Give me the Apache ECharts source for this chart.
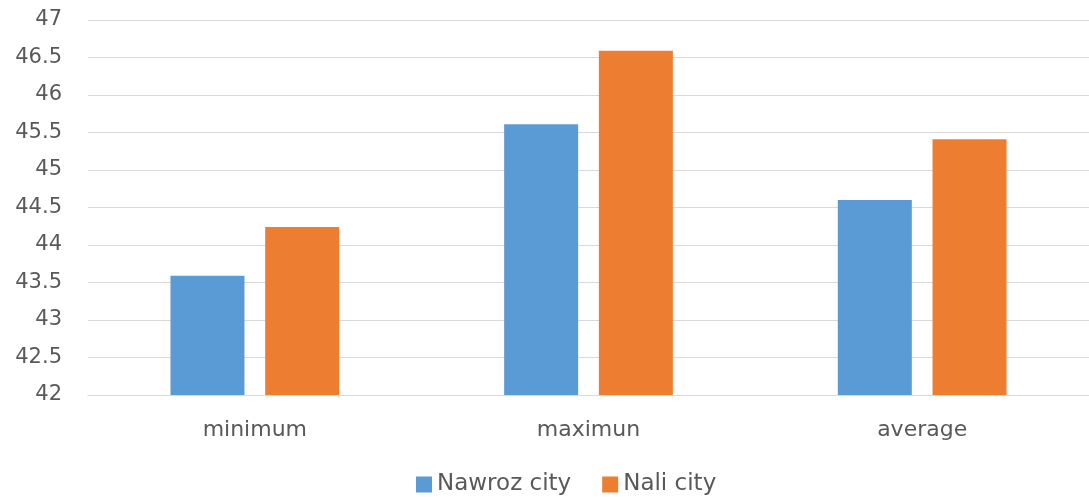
<!DOCTYPE html>
<html><head><meta charset="utf-8">
<script src="https://cdn.jsdelivr.net/npm/echarts@6/dist/echarts.min.js"></script>
<style>html,body{margin:0;padding:0;background:#fff}#c{width:1089px;height:497px}</style>
</head><body><div id="c"></div>
<script>
const categories = ['minimum', 'maximun', 'average'];
const nawroz = [43.59, 45.61, 44.6];
const nali = [44.24, 46.59, 45.41];
const seriesNames = ['Nawroz city', 'Nali city'];

const chart = echarts.init(document.getElementById('c'));
const font = '"DejaVu Sans", sans-serif';
chart.setOption({
  animation: false,
  color: ['#5B9BD5', '#ED7D31'],
  grid: { left: 88, right: -5, top: 20, bottom: 102, containLabel: false },
  legend: {
    top: 468, left: 411, itemWidth: 16, itemHeight: 16, itemGap: 31,
    icon: 'rect',
    textStyle: { color: '#595959', fontSize: 23, fontFamily: font }
  },
  xAxis: {
    type: 'category', data: categories,
    axisLine: { lineStyle: { color: '#d9d9d9' } },
    axisTick: { show: false },
    axisLabel: { color: '#595959', fontSize: 22, fontFamily: font, margin: 24 }
  },
  yAxis: {
    type: 'value', min: 42, max: 47, interval: 0.5,
    axisLine: { show: false }, axisTick: { show: false },
    splitLine: { lineStyle: { color: '#d9d9d9' } },
    axisLabel: { color: '#595959', fontSize: 21, fontFamily: font, margin: 26 }
  },
  series: [
    { name: seriesNames[0], type: 'bar', data: nawroz, barWidth: 74, barGap: '28%' },
    { name: seriesNames[1], type: 'bar', data: nali, barWidth: 74 }
  ]
});
</script></body></html>
